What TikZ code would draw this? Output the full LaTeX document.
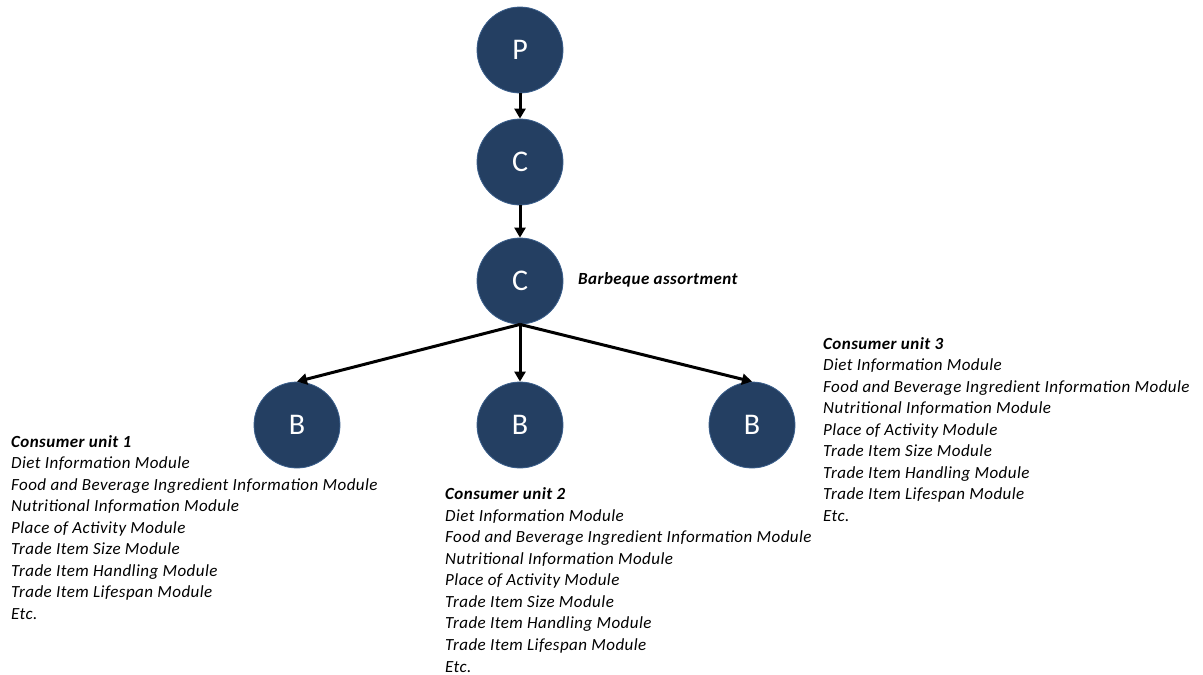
\documentclass[tikz,border=0pt]{standalone}
\usepackage{fontspec}
\setmainfont{Carlito}
\newfontfamily\widefont[LetterSpace=2.6]{Carlito}
\usetikzlibrary{arrows.meta}
\definecolor{nodefill}{HTML}{243F62}
\definecolor{nodeline}{HTML}{3B5F8C}
\tikzset{
  bnode/.style={circle, fill=nodefill, draw=nodeline, line width=0.8pt, minimum size=86pt, inner sep=0pt, text=white, font=\fontsize{30}{36}\selectfont},
  conn/.style={line width=3pt, -{Triangle[length=10pt,width=11pt]}},
  modlist/.style={anchor=north west, inner sep=0pt, align=left, font=\widefont\fontsize{17}{21.55}\selectfont\itshape}
}
\begin{document}
\begin{tikzpicture}[x=1pt,y=-1pt]
\useasboundingbox (0,0) rectangle (1203,675);
\node[bnode] (p) at (520,50) {P};
\node[bnode] (c1) at (520,162) {C};
\node[bnode] (c2) at (520,281) {C};
\node[bnode] (b1) at (297,425) {B};
\node[bnode] (b2) at (520,425) {B};
\node[bnode] (b3) at (752,425) {B};
\draw[conn] (p.south) -- (c1.north);
\draw[conn] (c1.south) -- (c2.north);
\draw[conn] (c2.south) -- (b1.north);
\draw[conn] (c2.south) -- (b2.north);
\draw[conn] (c2.south) -- (b3.north);
\node[anchor=west, inner sep=0pt, font=\widefont\fontsize{17}{20}\selectfont\bfseries\itshape] (lbl) at (578,280) {Barbeque assortment};
\node[modlist] (u1) at (11,435) {\textbf{Consumer unit 1}\\Diet Information Module\\Food and Beverage Ingredient Information Module\\Nutritional Information Module\\Place of Activity Module\\Trade Item Size Module\\Trade Item Handling Module\\Trade Item Lifespan Module\\Etc.};
\node[modlist] (u2) at (445,487.5) {\textbf{Consumer unit 2}\\Diet Information Module\\Food and Beverage Ingredient Information Module\\Nutritional Information Module\\Place of Activity Module\\Trade Item Size Module\\Trade Item Handling Module\\Trade Item Lifespan Module\\Etc.};
\node[modlist] (u3) at (823,337) {\textbf{Consumer unit 3}\\Diet Information Module\\Food and Beverage Ingredient Information Module\\Nutritional Information Module\\Place of Activity Module\\Trade Item Size Module\\Trade Item Handling Module\\Trade Item Lifespan Module\\Etc.};
\end{tikzpicture}
\end{document}
